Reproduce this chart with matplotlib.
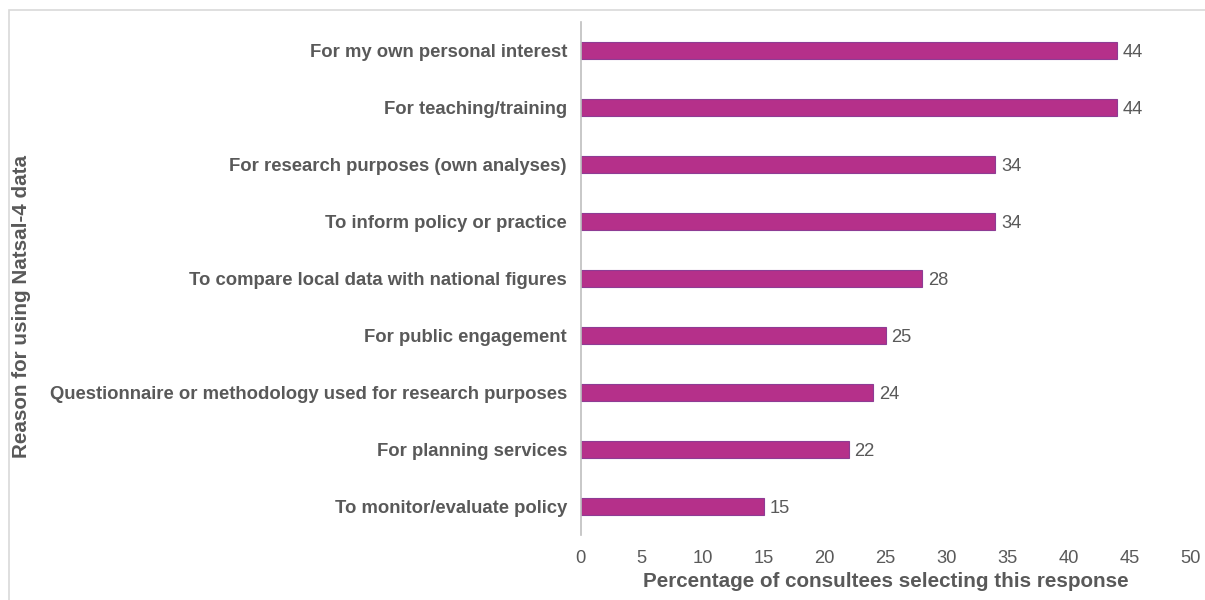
import matplotlib
matplotlib.use('Agg')
from matplotlib import pyplot as plt
from matplotlib.patches import Rectangle

plt.rcParams['font.family'] = ['Liberation Sans', 'DejaVu Sans']

reasons = ['For my own personal interest',
           'For teaching/training',
           'For research purposes (own analyses)',
           'To inform policy or practice',
           'To compare local data with national figures',
           'For public engagement',
           'Questionnaire or methodology used for research purposes',
           'For planning services',
           'To monitor/evaluate policy']
values = [44, 44, 34, 34, 28, 25, 24, 22, 15]
xticks = [0, 5, 10, 15, 20, 25, 30, 35, 40, 45, 50]

txt = '#595959'
fig = plt.figure(figsize=(12.05, 6), dpi=100)
ax = fig.add_axes([0.482, 0.108, 0.506, 0.855])

# grey outer frame (only top and left visible)
fig.patches.append(Rectangle((9 / 1205, -0.05), 1.1, 1 - 10 / 600 + 0.05,
                             transform=fig.transFigure, fill=False,
                             edgecolor='#D9D9D9', linewidth=1.2))

pos = list(range(len(reasons)))
ax.barh(pos, values, height=0.3, color='#B5308A', edgecolor='#8E3C94', linewidth=0.8)
for p, v in zip(pos, values):
    ax.text(v + 0.45, p, str(v), va='center_baseline', ha='left', fontsize=13.2, color=txt)

ax.set_yticks(pos)
ax.set_yticklabels(reasons, fontsize=13.3, fontweight='bold', color=txt)
ax.set_ylim(8.5, -0.5)
ax.set_xlim(0, 50)
ax.set_xticks(xticks)
ax.set_xticklabels([str(t) for t in xticks], fontsize=13.2, color=txt)
ax.tick_params(axis='x', length=0, pad=11)
ax.tick_params(axis='y', length=0, pad=10)
for s in ['top', 'right', 'bottom']:
    ax.spines[s].set_visible(False)
ax.spines['left'].set_color('#BFBFBF')
ax.spines['left'].set_linewidth(1.2)

ax.set_xlabel('Percentage of consultees selecting this response', fontsize=14.9,
              fontweight='bold', color=txt, labelpad=3)
fig.text(22 / 1205, 1 - 306 / 600, 'Reason for using Natsal-4 data', rotation=90,
         ha='center', va='center', fontsize=14.9, fontweight='bold', color=txt)

fig.savefig('out.png', dpi=100)
